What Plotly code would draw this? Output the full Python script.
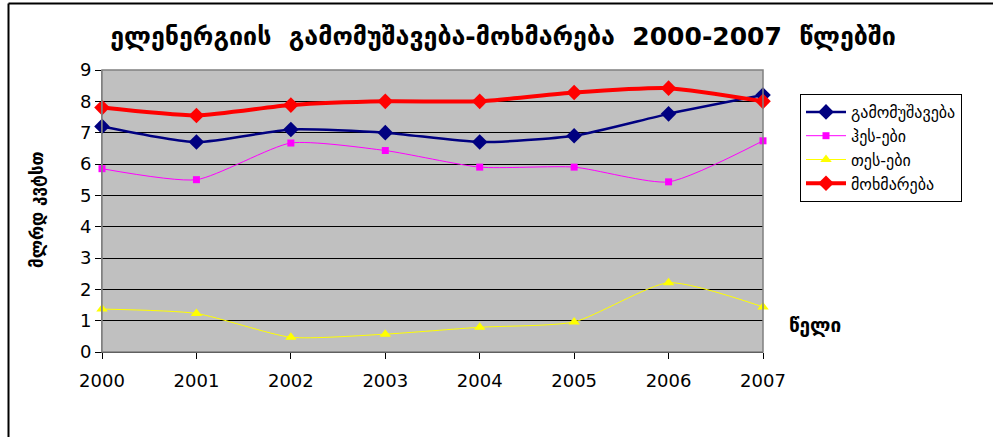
import plotly.graph_objects as go

years = [2000, 2001, 2002, 2003, 2004, 2005, 2006, 2007]
production = [7.2, 6.7, 7.1, 7.0, 6.7, 6.9, 7.6, 8.2]
hpp = [5.85, 5.5, 6.67, 6.43, 5.9, 5.9, 5.43, 6.74]
tpp = [1.37, 1.23, 0.47, 0.57, 0.79, 0.96, 2.21, 1.44]
consumption = [7.8, 7.55, 7.88, 8.0, 8.0, 8.28, 8.42, 8.0]

series_names = ["გამომუშავება", "ჰეს-ები", "თეს-ები", "მოხმარება"]
y_ticks = list(range(0, 10))

W, H = 993, 437
L, R, T, B = 102, 763, 70, 352  # plot area in px


def px_x(px):
    return (px - L) / (R - L)


def px_y(py):
    return (B - py) / (B - T)


fig = go.Figure()

styles = [
    (production, "#000080", 2.5, "diamond", 12),
    (hpp, "#FF00FF", 1, "square", 7),
    (tpp, "#FFFF00", 1, "triangle-up", 10),
    (consumption, "#FF0000", 4, "diamond", 12),
]

for name, (vals, color, lw, sym, ms) in zip(series_names, styles):
    fig.add_trace(go.Scatter(
        x=years,
        y=vals,
        name=name,
        mode="lines+markers",
        line=dict(color=color, width=lw, shape="spline", smoothing=0.6),
        marker=dict(symbol=sym, size=ms, color=color),
        cliponaxis=False,
    ))

fig.update_layout(
    width=W,
    height=H,
    margin=dict(l=L, r=W - R, t=T, b=H - B, pad=0),
    paper_bgcolor="white",
    plot_bgcolor="#C0C0C0",
    font=dict(family="DejaVu Sans", color="black"),
    title=dict(
        text="<b>ელენერგიის  გამომუშავება-მოხმარება  2000-2007  წლებში</b>",
        font=dict(family="DejaVu Sans", size=25, color="black"),
        x=503 / W, xanchor="center",
        y=1 - 36 / H, yanchor="middle",
    ),
    legend=dict(
        x=px_x(800), y=px_y(94), xanchor="left", yanchor="top",
        bordercolor="black", borderwidth=1, bgcolor="white",
        font=dict(family="DejaVu Sans", size=16),
        tracegroupgap=0, itemwidth=40,
    ),
    xaxis=dict(
        range=[2000, 2007], tickmode="array", tickvals=years,
        ticktext=[str(y) for y in years],
        showgrid=False, zeroline=False,
        showline=True, linecolor="black", linewidth=1,
        ticks="outside", ticklen=6, tickcolor="black",
        ticklabelstandoff=6,
        tickfont=dict(family="DejaVu Sans", size=18),
    ),
    yaxis=dict(
        range=[0, 9], tickmode="array", tickvals=y_ticks,
        showgrid=True, gridcolor="black", gridwidth=1,
        zeroline=False,
        showline=True, linecolor="#808080", linewidth=1,
        ticks="outside", ticklen=6, tickcolor="black",
        tickfont=dict(family="DejaVu Sans", size=18),
    ),
    shapes=[
        # plot area border
        dict(type="rect", xref="paper", yref="paper", x0=0, y0=0, x1=1, y1=1,
             line=dict(color="#808080", width=1.5), layer="above"),
        # outer frame (top and left edges)
        dict(type="line", xref="paper", yref="paper",
             x0=px_x(8.5), y0=px_y(3.5), x1=px_x(W + 5), y1=px_y(3.5),
             line=dict(color="black", width=2)),
        dict(type="line", xref="paper", yref="paper",
             x0=px_x(8.5), y0=px_y(3.5), x1=px_x(8.5), y1=px_y(H + 5),
             line=dict(color="black", width=2)),
    ],
    annotations=[
        dict(text="<b>მლრდ კვტსთ</b>", xref="paper", yref="paper",
             x=px_x(37), y=px_y(210), xanchor="center", yanchor="middle",
             textangle=-90, showarrow=False,
             font=dict(family="DejaVu Sans", size=17)),
        dict(text="<b>წელი</b>", xref="paper", yref="paper",
             x=px_x(815), y=px_y(325), xanchor="center", yanchor="middle",
             showarrow=False,
             font=dict(family="DejaVu Sans", size=19)),
    ],
)

fig.write_html("out.html", config={"displayModeBar": False},
               post_script="document.body.style.margin='0px';")
